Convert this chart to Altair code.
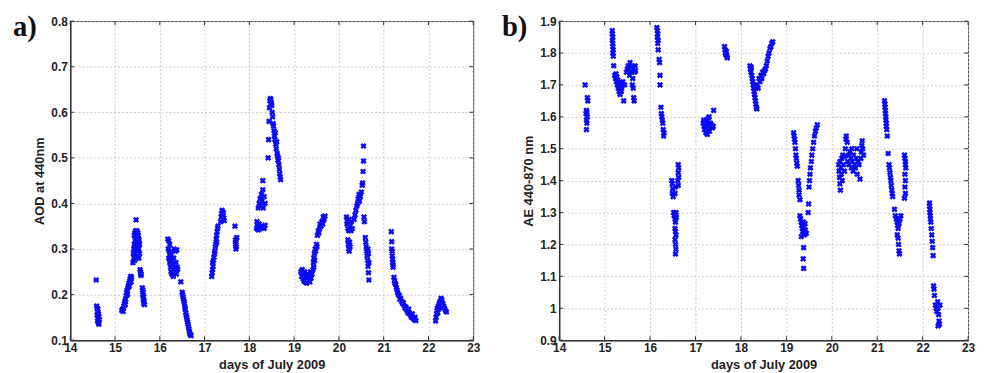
import altair as alt
import pandas as pd

# ---------------- data ----------------
# panel a) : (day of July 2009, AOD at 440 nm)
aod_points = [
    (14.58,0.232),(14.59,0.175),(14.60,0.170),(14.62,0.168),(14.61,0.162),(14.63,0.158),(14.60,0.155),
    (14.64,0.152),(14.62,0.148),(14.65,0.145),(14.61,0.142),(14.63,0.138),(14.64,0.135),
    (15.15,0.165),(15.17,0.168),(15.18,0.163),(15.19,0.170),(15.20,0.175),(15.21,0.180),(15.22,0.185),
    (15.23,0.178),(15.24,0.190),(15.25,0.198),(15.26,0.205),(15.27,0.210),(15.28,0.200),(15.29,0.215),
    (15.30,0.220),(15.31,0.225),(15.32,0.218),(15.33,0.230),(15.34,0.235),(15.35,0.240),(15.36,0.228),
    (15.37,0.238),
    (15.40,0.270),(15.41,0.290),(15.42,0.300),(15.42,0.280),(15.43,0.310),(15.43,0.330),(15.44,0.335),
    (15.44,0.275),(15.45,0.290),(15.45,0.320),(15.46,0.300),(15.46,0.340),(15.47,0.364),(15.47,0.330),
    (15.48,0.310),(15.48,0.280),(15.49,0.340),(15.49,0.300),(15.50,0.320),(15.50,0.285),(15.51,0.335),
    (15.51,0.295),(15.52,0.310),(15.52,0.330),(15.53,0.300),(15.53,0.280),(15.54,0.320),(15.55,0.290),
    (15.55,0.310),
    (15.56,0.255),(15.57,0.250),(15.58,0.245),(15.58,0.242),
    (15.61,0.215),(15.62,0.210),(15.63,0.205),(15.62,0.200),(15.64,0.195),(15.63,0.190),(15.65,0.185),
    (15.64,0.180),(15.66,0.178),
    (16.18,0.322),(16.20,0.318),(16.19,0.300),(16.21,0.295),(16.22,0.310),(16.20,0.280),(16.23,0.285),
    (16.22,0.270),(16.24,0.260),(16.25,0.290),(16.25,0.250),(16.26,0.275),(16.27,0.245),(16.28,0.265),
    (16.29,0.255),(16.30,0.240),(16.31,0.280),(16.32,0.300),(16.33,0.260),(16.34,0.250),(16.35,0.295),
    (16.36,0.270),(16.37,0.245),(16.38,0.298),(16.39,0.260),(16.40,0.255),
    (16.47,0.228),
    (16.50,0.205),(16.51,0.200),(16.52,0.195),(16.53,0.190),(16.54,0.185),(16.55,0.180),(16.56,0.172),
    (16.57,0.168),(16.58,0.160),(16.59,0.155),(16.60,0.150),(16.61,0.145),(16.62,0.140),(16.63,0.135),
    (16.64,0.130),(16.65,0.125),(16.66,0.120),(16.67,0.115),(16.68,0.112),(16.70,0.110),
    (17.16,0.240),(17.17,0.248),(17.18,0.255),(17.19,0.262),(17.18,0.270),(17.20,0.275),(17.21,0.282),
    (17.22,0.290),(17.23,0.295),(17.24,0.305),(17.25,0.310),(17.26,0.322),(17.27,0.330),(17.28,0.338),
    (17.29,0.345),(17.27,0.315),(17.30,0.350),(17.36,0.360),(17.37,0.370),(17.38,0.378),(17.39,0.385),
    (17.40,0.372),(17.41,0.365),(17.42,0.380),(17.43,0.368),(17.44,0.362),
    (17.68,0.350),(17.69,0.320),(17.70,0.315),(17.69,0.310),(17.71,0.305),(17.70,0.300),(17.72,0.325),
    (18.16,0.345),(18.18,0.350),(18.17,0.360),(18.20,0.342),(18.22,0.355),(18.25,0.345),(18.28,0.350),
    (18.30,0.348),(18.33,0.345),(18.35,0.352),
    (18.20,0.390),(18.22,0.400),(18.24,0.410),(18.25,0.395),(18.27,0.420),(18.28,0.405),(18.30,0.430),
    (18.31,0.390),(18.33,0.415),(18.35,0.400),(18.30,0.450),
    (18.42,0.500),(18.43,0.540),(18.44,0.580),(18.45,0.610),(18.46,0.625),(18.47,0.630),(18.48,0.628),
    (18.49,0.620),(18.50,0.615),
    (18.51,0.600),(18.52,0.590),(18.53,0.575),(18.54,0.570),(18.55,0.560),(18.56,0.548),(18.57,0.540),
    (18.58,0.555),(18.59,0.530),(18.60,0.520),(18.61,0.535),(18.62,0.510),(18.63,0.505),(18.64,0.495),
    (18.65,0.500),(18.66,0.485),(18.67,0.475),(18.68,0.465),(18.69,0.458),(18.70,0.452),
    (19.15,0.250),(19.17,0.240),(19.18,0.255),(19.20,0.235),(19.21,0.245),(19.22,0.230),(19.24,0.250),
    (19.25,0.228),(19.27,0.240),(19.28,0.225),(19.30,0.245),(19.31,0.232),(19.33,0.238),(19.35,0.228),
    (19.37,0.250),(19.38,0.236),(19.40,0.245),(19.42,0.255),(19.44,0.260),
    (19.43,0.270),(19.44,0.280),(19.45,0.290),(19.46,0.275),(19.47,0.300),(19.48,0.295),(19.50,0.310),
    (19.51,0.305),
    (19.52,0.330),(19.54,0.340),(19.55,0.335),(19.57,0.345),(19.58,0.355),(19.60,0.350),(19.62,0.360),
    (19.64,0.355),(19.65,0.370),(19.67,0.365),(19.69,0.372),
    (20.17,0.370),(20.18,0.355),(20.20,0.345),(20.19,0.360),(20.22,0.340),(20.23,0.365),(20.25,0.350),
    (20.27,0.340),(20.28,0.360),(20.30,0.345),(20.20,0.320),(20.21,0.310),(20.22,0.300),(20.23,0.295),
    (20.24,0.315),(20.25,0.305),
    (20.34,0.365),(20.36,0.375),(20.38,0.385),(20.40,0.395),(20.42,0.400),(20.43,0.410),(20.45,0.420),
    (20.46,0.405),(20.48,0.415),(20.50,0.425),(20.52,0.440),(20.53,0.445),(20.54,0.470),(20.55,0.493),
    (20.55,0.526),
    (20.56,0.370),(20.57,0.360),(20.59,0.325),(20.60,0.315),(20.61,0.305),(20.62,0.295),(20.63,0.285),
    (20.64,0.275),(20.65,0.300),(20.66,0.290),(20.67,0.270),(20.65,0.262),(20.66,0.248),(20.67,0.232),
    (21.17,0.338),(21.18,0.316),(21.18,0.300),(21.19,0.295),(21.19,0.285),(21.20,0.278),(21.20,0.270),
    (21.21,0.265),(21.21,0.260),
    (21.23,0.238),(21.24,0.230),(21.25,0.225),(21.27,0.222),(21.28,0.215),(21.30,0.210),(21.31,0.205),
    (21.33,0.200),(21.35,0.198),(21.36,0.190),(21.38,0.192),(21.40,0.185),(21.42,0.180),(21.44,0.182),
    (21.46,0.175),(21.48,0.170),(21.50,0.172),(21.52,0.165),(21.54,0.160),(21.56,0.168),(21.58,0.158),
    (21.60,0.155),(21.62,0.150),(21.64,0.158),(21.66,0.148),(21.68,0.145),(21.70,0.150),(21.72,0.143),
    (22.16,0.142),(22.17,0.150),(22.18,0.158),(22.19,0.165),(22.20,0.170),(22.22,0.175),(22.24,0.180),
    (22.26,0.185),(22.28,0.192),(22.30,0.188),(22.32,0.180),(22.34,0.175),(22.36,0.170),(22.38,0.165),
    (22.40,0.162),(22.21,0.160),(22.25,0.170),
]

# panel b) : (day of July 2009, Angstrom exponent 440-870 nm)
ae_points = [
    (14.57,1.700),(14.62,1.660),(14.63,1.650),(14.60,1.620),(14.61,1.615),(14.59,1.610),(14.62,1.600),
    (14.60,1.590),(14.61,1.580),(14.60,1.560),
    (15.17,1.870),(15.17,1.860),(15.18,1.850),(15.17,1.840),(15.18,1.830),(15.18,1.820),(15.19,1.810),
    (15.18,1.800),(15.19,1.790),(15.20,1.760),
    (15.22,1.730),(15.24,1.720),(15.25,1.735),(15.26,1.710),(15.27,1.725),(15.28,1.700),(15.29,1.715),
    (15.30,1.690),(15.31,1.705),(15.32,1.680),(15.33,1.700),(15.34,1.670),(15.35,1.690),(15.36,1.700),
    (15.37,1.680),(15.38,1.695),(15.40,1.710),(15.42,1.650),(15.44,1.700),
    (15.48,1.740),(15.50,1.750),(15.52,1.760),(15.53,1.745),(15.55,1.730),(15.56,1.770),(15.58,1.740),
    (15.60,1.755),(15.61,1.700),(15.62,1.720),(15.63,1.690),(15.64,1.660),(15.65,1.650),(15.66,1.740),
    (15.67,1.760),(15.68,1.745),
    (16.15,1.880),(16.16,1.870),(16.17,1.860),(16.16,1.850),(16.18,1.840),(16.17,1.830),(16.18,1.810),
    (16.20,1.780),(16.21,1.770),(16.22,1.730),(16.22,1.700),(16.24,1.630),(16.25,1.610),(16.26,1.600),
    (16.27,1.590),(16.28,1.580),(16.29,1.560),(16.31,1.550),(16.30,1.540),
    (16.62,1.450),(16.63,1.440),(16.62,1.425),(16.63,1.410),(16.61,1.400),(16.62,1.385),(16.48,1.400),
    (16.49,1.390),(16.50,1.375),(16.49,1.360),(16.51,1.350),(16.56,1.380),(16.55,1.360),
    (16.52,1.300),(16.53,1.290),(16.55,1.280),(16.57,1.300),(16.58,1.285),(16.56,1.270),
    (16.55,1.250),(16.56,1.240),(16.57,1.230),(16.55,1.215),(16.56,1.200),(16.57,1.185),(16.56,1.170),
    (17.17,1.580),(17.18,1.590),(17.19,1.570),(17.20,1.560),(17.21,1.585),(17.22,1.575),(17.23,1.550),
    (17.24,1.590),(17.25,1.570),(17.26,1.545),(17.27,1.580),(17.28,1.560),(17.30,1.600),(17.40,1.620),
    (17.33,1.580),(17.35,1.575),(17.37,1.565),(17.39,1.570),(17.28,1.595),(17.31,1.555),
    (17.64,1.820),(17.65,1.810),(17.66,1.800),(17.67,1.795),(17.68,1.805),(17.69,1.790),(17.70,1.785),
    (18.20,1.760),(18.21,1.750),(18.22,1.740),(18.23,1.755),(18.24,1.730),(18.25,1.720),(18.26,1.710),
    (18.27,1.700),(18.28,1.690),(18.29,1.680),(18.30,1.670),(18.31,1.660),(18.32,1.650),(18.33,1.640),
    (18.34,1.630),(18.35,1.625),(18.33,1.690),(18.36,1.700),(18.38,1.690),
    (18.40,1.720),(18.42,1.710),(18.44,1.730),(18.46,1.720),(18.48,1.740),(18.50,1.735),(18.52,1.745),
    (18.54,1.750),(18.56,1.760),(18.58,1.775),(18.60,1.790),(18.62,1.800),(18.64,1.815),(18.66,1.820),
    (18.68,1.830),(18.70,1.835),
    (19.16,1.550),(19.17,1.540),(19.18,1.530),(19.19,1.520),(19.20,1.500),(19.21,1.480),(19.22,1.470),
    (19.23,1.455),(19.24,1.445),
    (19.26,1.400),(19.27,1.385),(19.28,1.370),(19.28,1.355),(19.30,1.340),
    (19.30,1.290),(19.31,1.280),(19.33,1.270),(19.34,1.260),(19.35,1.250),(19.36,1.240),(19.37,1.270),
    (19.38,1.255),(19.40,1.230),(19.41,1.265),(19.42,1.245),(19.44,1.235),(19.33,1.225),
    (19.38,1.190),(19.37,1.155),(19.38,1.125),
    (19.48,1.300),(19.49,1.327),(19.50,1.380),(19.51,1.400),(19.52,1.420),(19.53,1.440),(19.55,1.460),
    (19.56,1.480),(19.58,1.500),(19.60,1.520),(19.62,1.540),(19.64,1.555),(19.66,1.565),(19.68,1.575),
    (20.15,1.450),(20.16,1.430),(20.17,1.410),(20.18,1.390),(20.19,1.370),(20.18,1.460),(20.20,1.440),
    (20.21,1.420),(20.22,1.470),(20.23,1.400),(20.24,1.480),(20.26,1.450),(20.28,1.430),(20.30,1.500),
    (20.31,1.530),(20.32,1.540),(20.34,1.520),(20.35,1.460),(20.37,1.480),(20.38,1.450),(20.40,1.490),
    (20.42,1.470),(20.43,1.440),(20.45,1.460),(20.47,1.430),(20.48,1.480),(20.50,1.450),(20.52,1.440),
    (20.54,1.470),(20.56,1.420),(20.58,1.460),(20.60,1.450),(20.62,1.405),(20.64,1.470),(20.65,1.490),
    (20.66,1.510),(20.67,1.525),(20.68,1.500),(20.70,1.480),(20.28,1.475),(20.44,1.500),(20.55,1.500),
    (21.16,1.650),(21.17,1.640),(21.17,1.630),(21.18,1.620),(21.18,1.610),(21.19,1.600),(21.19,1.590),
    (21.20,1.580),(21.20,1.570),(21.21,1.560),(21.22,1.540),(21.24,1.485),
    (21.26,1.450),(21.27,1.440),(21.28,1.425),(21.29,1.410),(21.30,1.400),(21.31,1.385),(21.32,1.370),
    (21.33,1.360),(21.34,1.350),
    (21.38,1.310),(21.40,1.290),(21.42,1.280),(21.44,1.270),(21.45,1.260),(21.46,1.250),(21.47,1.275),
    (21.48,1.265),(21.50,1.280),(21.52,1.290),(21.44,1.230),(21.46,1.220),(21.47,1.200),(21.48,1.180),
    (21.49,1.170),
    (21.60,1.480),(21.61,1.470),(21.62,1.460),(21.62,1.450),(21.63,1.440),(21.61,1.420),(21.62,1.400),
    (21.61,1.380),(21.62,1.360),(21.60,1.345),
    (22.15,1.330),(22.15,1.320),(22.16,1.310),(22.16,1.300),(22.17,1.290),(22.17,1.280),(22.18,1.270),
    (22.19,1.250),(22.20,1.230),(22.21,1.210),(22.22,1.190),(22.23,1.165),
    (22.24,1.070),(22.25,1.060),(22.26,1.040),(22.28,1.010),(22.30,1.000),(22.31,0.990),(22.33,1.020),
    (22.34,1.000),(22.35,0.980),(22.36,0.960),(22.37,0.950),(22.34,0.945),(22.38,1.010),
]

day_ticks = [14, 15, 16, 17, 18, 19, 20, 21, 22, 23]
aod_ticks = [0.1, 0.2, 0.3, 0.4, 0.5, 0.6, 0.7, 0.8]
ae_ticks = [0.9, 1.0, 1.1, 1.2, 1.3, 1.4, 1.5, 1.6, 1.7, 1.8, 1.9]

x_title = "days of July 2009"
titles = {"a": "AOD at 440nm", "b": "AE 440-870 nm"}

BLUE = "#0c0cf2"
FONT = "Liberation Sans"
H = 323


def panel(points, ycol, yticks, ydomain, ytitle, letter, width):
    df = pd.DataFrame(points, columns=["day", ycol])
    xs = alt.Scale(domain=[14, 23], nice=False, zero=False)
    ys = alt.Scale(domain=ydomain, nice=False, zero=False)
    common = dict(
        grid=True, gridColor="#bdbdbd", gridDash=[2, 2], gridWidth=0.8,
        ticks=False, domainColor="#333333", domainWidth=1.5,
        labelFont=FONT, labelFontWeight="bold", labelFontSize=12,
        labelColor="#222222", labelFlush=False, labelOverlap=False,
        labelSeparation=0,
        titleFont=FONT, titleFontWeight="bold", titleFontSize=13,
        titleColor="#222222",
    )
    x_axis = alt.Axis(values=day_ticks, title=x_title, labelPadding=2,
                      titlePadding=6, format="d", **common)
    y_axis = alt.Axis(values=yticks, title=ytitle, labelPadding=3,
                      titlePadding=4,
                      labelExpr="format(datum.value, '.1~f')", **common)
    xe = alt.X("day:Q", scale=xs, axis=x_axis)
    ye = alt.Y(f"{ycol}:Q", scale=ys, axis=y_axis)

    pts = alt.Chart(df).mark_point(
        shape="cross", angle=45, filled=True, size=40, color=BLUE, opacity=1
    ).encode(x=xe, y=ye)

    xt = pd.DataFrame({"day": day_ticks})
    yt = pd.DataFrame({ycol: yticks})
    tick_style = dict(color="#333333", strokeWidth=1)
    top_t = alt.Chart(xt).mark_rule(**tick_style).encode(
        x=xe, y=alt.value(0), y2=alt.value(4))
    bot_t = alt.Chart(xt).mark_rule(**tick_style).encode(
        x=xe, y=alt.value(H - 4), y2=alt.value(H))
    left_t = alt.Chart(yt).mark_rule(**tick_style).encode(
        y=ye, x=alt.value(0), x2=alt.value(4))
    right_t = alt.Chart(yt).mark_rule(**tick_style).encode(
        y=ye, x=alt.value(width - 4), x2=alt.value(width))

    lab = alt.Chart(pd.DataFrame({"lbl": [letter + ")"]})).mark_text(
        font="Liberation Serif", fontSize=29, fontWeight="bold",
        align="left", baseline="alphabetic", color="#111111"
    ).encode(x=alt.value(-58), y=alt.value(15), text="lbl:N")

    return alt.layer(pts, top_t, bot_t, left_t, right_t, lab).properties(
        width=width, height=H)


pa = panel(aod_points, "aod", aod_ticks, [0.1, 0.8], titles["a"], "a", 408)
pb = panel(ae_points, "ae", ae_ticks, [0.9, 1.9], titles["b"], "b", 414)

chart = alt.hconcat(pa, pb, spacing=20).properties(
    padding={"left": 4, "top": 2, "right": 0, "bottom": 0}
).configure_view(
    stroke="#444444", strokeWidth=1
).configure_axis(labelOverlap=False)

chart.save("out.html", embed_options={"renderer": "svg", "actions": False})
